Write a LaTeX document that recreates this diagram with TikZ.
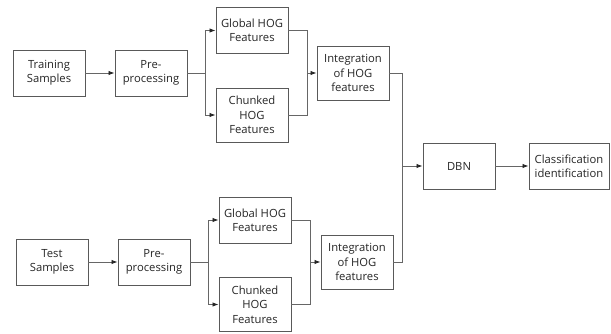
\documentclass[tikz,border=0pt]{standalone}
\usepackage{fontspec}
\setmainfont{Open Sans}
\usetikzlibrary{arrows.meta}

\begin{document}
\begin{tikzpicture}[x=0.025cm, y=-0.025cm,
  box/.style={draw=black!65, line width=0.6pt, fill=white, align=center, font=\fontsize{8}{10.2}\selectfont, text=black!85, minimum width=1.8cm, minimum height=1.15cm, inner sep=1pt},
  tall/.style={box, minimum height=1.35cm},
  wire/.style={draw=black!60, line width=0.6pt},
  arr/.style={wire, -{Latex[length=1.5mm, width=1.1mm, color=black!85]}}]
  \useasboundingbox (0,0) rectangle (611,334);
  \node (trainS) at (49,73) [box] {Training\\Samples};
  \node (pre1) at (151,73) [box] {Pre-\\processing};
  \node (glob1) at (252,30.5) [box] {Global HOG\\Features};
  \node (chk1) at (252,115) [tall] {Chunked\\HOG\\Features};
  \node (int1) at (353,73) [tall] {Integration\\of HOG\\features};
  \node (testS) at (52,262) [box] {Test\\Samples};
  \node (pre2) at (154,262) [box] {Pre-\\processing};
  \node (glob2) at (255,220) [box] {Global HOG\\Features};
  \node (chk2) at (255,304.5) [tall] {Chunked\\HOG\\Features};
  \node (int2) at (357,262) [tall] {Integration\\of HOG\\features};
  \node (dbn) at (459,166) [box] {DBN};
  \node (cls) at (569,166) [box, minimum width=2cm] {Classification\\identification};
  \coordinate (s1) at (205,73);
  \coordinate (s2) at (208,262);
  \coordinate (m1) at (307,73);
  \coordinate (m2) at (310,262);
  \coordinate (m3) at (402,166);
  \draw[arr] (trainS) -- (pre1);
  \draw[arr] (pre1.east) -- (s1) |- (glob1.west);
  \draw[arr] (s1) |- (chk1.west);
  \draw[arr] (glob1.east) -| (m1) -- (int1.west);
  \draw[wire] (chk1.east) -| (m1);
  \draw[arr] (testS) -- (pre2);
  \draw[arr] (pre2.east) -- (s2) |- (glob2.west);
  \draw[arr] (s2) |- (chk2.west);
  \draw[arr] (glob2.east) -| (m2) -- (int2.west);
  \draw[wire] (chk2.east) -| (m2);
  \draw[arr] (int1.east) -| (m3) -- (dbn.west);
  \draw[wire] (int2.east) -| (m3);
  \draw[arr] (dbn) -- (cls);
\end{tikzpicture}
\end{document}
